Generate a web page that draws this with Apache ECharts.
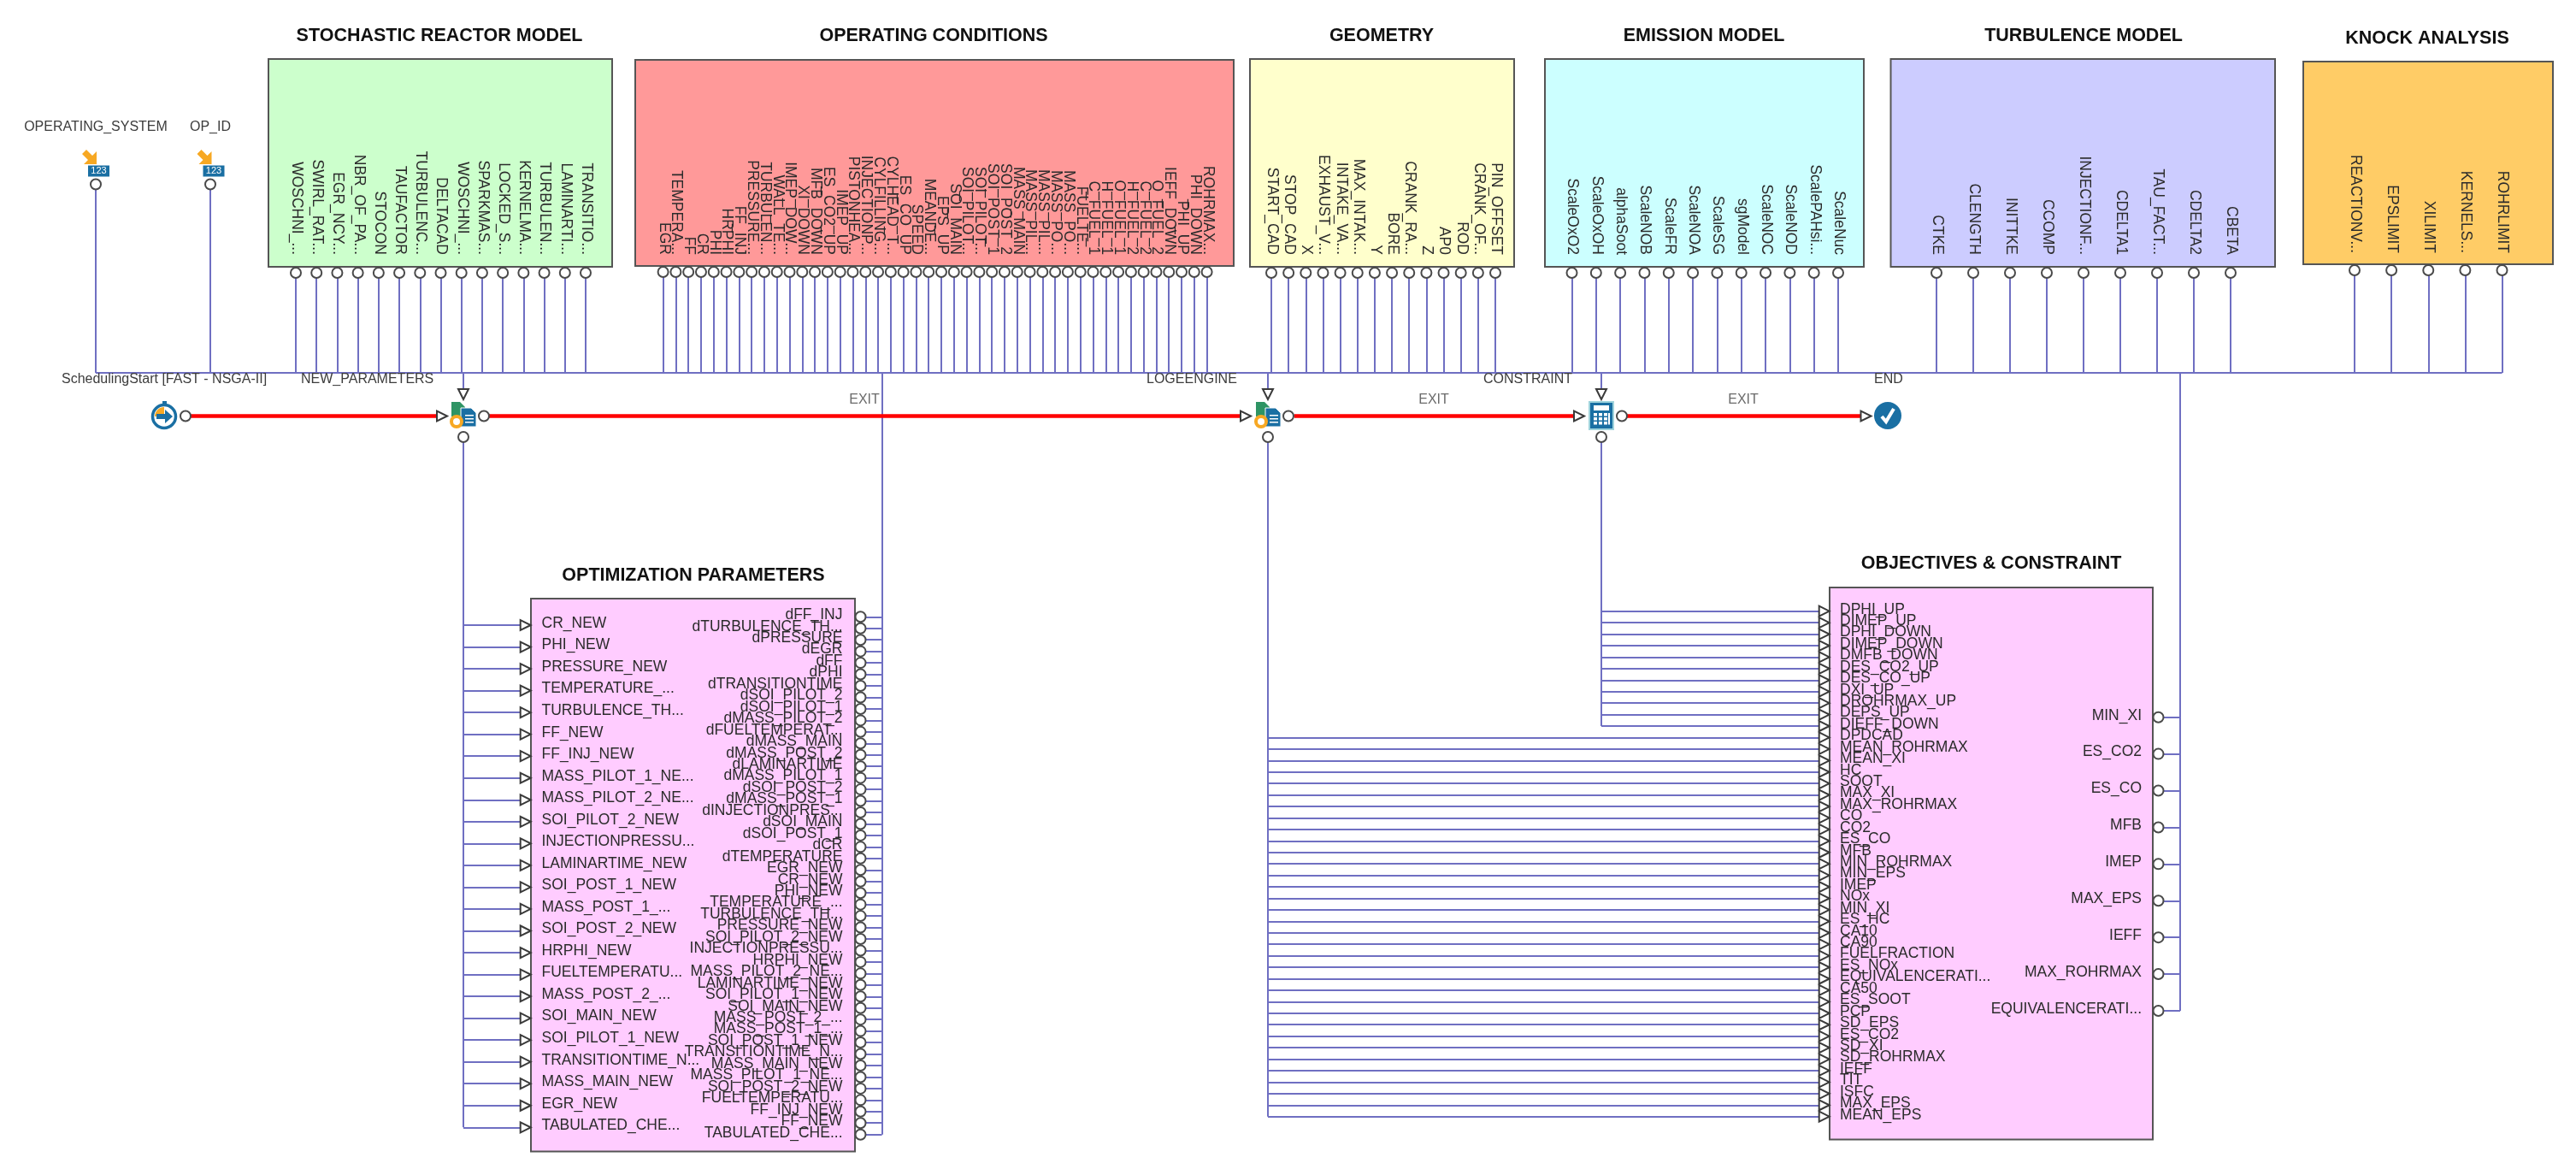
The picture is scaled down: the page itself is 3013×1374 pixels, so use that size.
<!DOCTYPE html>
<html>
<head>
<meta charset="utf-8">
<title>Workflow</title>
<style>
  html, body { margin: 0; height: 100%; background: #fff; overflow: hidden; }
  #chart { width: 3013px; height: 1374px; }
</style>
<script src="https://cdn.jsdelivr.net/npm/echarts@6/dist/echarts.min.js"></script>
</head>
<body>
<div id="chart"></div>
<script>
// port names
const reactorPorts = ['WOSCHNI_...', 'SWIRL_RAT...', 'EGR_NCY...', 'NBR_OF_PA...', 'STOCON', 'TAUFACTOR', 'TURBULENC...', 'DELTACAD', 'WOSCHNI_...', 'SPARKMAS...', 'LOCKED_S...', 'KERNELMA...', 'TURBULEN...', 'LAMINARTI...', 'TRANSITIO...']
const conditionPorts = ['EGR', 'TEMPERA...', 'FF', 'CR', 'PHI', 'HRPHI', 'FF_INJ', 'PRESSURE...', 'TURBULEN...', 'WALL_TE...', 'IMEP_DOW...', 'XI_DOWN', 'MFB_DOWN', 'ES_CO2_UP', 'IMEP_UP', 'PISTONHEA...', 'INJECTIONP...', 'CYLFILLING...', 'CYLHEAD_T...', 'ES_CO_UP', 'SPEED', 'MEANDE...', 'EPS_UP', 'SOI_MAIN', 'SOI_PILOT...', 'SOI_PILOT...', 'SOI_POST_1', 'SOI_POST_2', 'MASS_MAIN', 'MASS_PIL...', 'MASS_PIL...', 'MASS_PO...', 'MASS_PO...', 'FUELTE...', 'C_FUEL_1', 'H_FUEL_1', 'O_FUEL_1', 'H_FUEL_2', 'C_FUEL_2', 'O_FUEL_2', 'IEFF_DOWN', 'PHI_UP', 'PHI_DOWN', 'ROHRMAX...']
const geometryPorts = ['START_CAD', 'STOP_CAD', 'X', 'EXHAUST_V...', 'INTAKE_VA...', 'MAX_INTAK...', 'Y', 'BORE', 'CRANK_RA...', 'Z', 'AP0', 'ROD', 'CRANK_OF...', 'PIN_OFFSET']
const emissionPorts = ['ScaleOxO2', 'ScaleOxOH', 'alphaSoot', 'ScaleNOB', 'ScaleFR', 'ScaleNOA', 'ScaleSG', 'sgModel', 'ScaleNOC', 'ScaleNOD', 'ScalePAHsi...', 'ScaleNuc']
const turbulencePorts = ['CTKE', 'CLENGTH', 'INITTKE', 'CCOMP', 'INJECTIONF...', 'CDELTA1', 'TAU_FACT...', 'CDELTA2', 'CBETA']
const knockPorts = ['REACTIONV...', 'EPSLIMIT', 'XILIMIT', 'KERNELS...', 'ROHRLIMIT']
const optimizationInputs = ['CR_NEW', 'PHI_NEW', 'PRESSURE_NEW', 'TEMPERATURE_...', 'TURBULENCE_TH...', 'FF_NEW', 'FF_INJ_NEW', 'MASS_PILOT_1_NE...', 'MASS_PILOT_2_NE...', 'SOI_PILOT_2_NEW', 'INJECTIONPRESSU...', 'LAMINARTIME_NEW', 'SOI_POST_1_NEW', 'MASS_POST_1_...', 'SOI_POST_2_NEW', 'HRPHI_NEW', 'FUELTEMPERATU...', 'MASS_POST_2_...', 'SOI_MAIN_NEW', 'SOI_PILOT_1_NEW', 'TRANSITIONTIME_N...', 'MASS_MAIN_NEW', 'EGR_NEW', 'TABULATED_CHE...']
const optimizationOutputs = ['dFF_INJ', 'dTURBULENCE_TH...', 'dPRESSURE', 'dEGR', 'dFF', 'dPHI', 'dTRANSITIONTIME', 'dSOI_PILOT_2', 'dSOI_PILOT_1', 'dMASS_PILOT_2', 'dFUELTEMPERAT...', 'dMASS_MAIN', 'dMASS_POST_2', 'dLAMINARTIME', 'dMASS_PILOT_1', 'dSOI_POST_2', 'dMASS_POST_1', 'dINJECTIONPRES...', 'dSOI_MAIN', 'dSOI_POST_1', 'dCR', 'dTEMPERATURE', 'EGR_NEW', 'CR_NEW', 'PHI_NEW', 'TEMPERATURE_...', 'TURBULENCE_TH...', 'PRESSURE_NEW', 'SOI_PILOT_2_NEW', 'INJECTIONPRESSU...', 'HRPHI_NEW', 'MASS_PILOT_2_NE...', 'LAMINARTIME_NEW', 'SOI_PILOT_1_NEW', 'SOI_MAIN_NEW', 'MASS_POST_2_...', 'MASS_POST_1_...', 'SOI_POST_1_NEW', 'TRANSITIONTIME_N...', 'MASS_MAIN_NEW', 'MASS_PILOT_1_NE...', 'SOI_POST_2_NEW', 'FUELTEMPERATU...', 'FF_INJ_NEW', 'FF_NEW', 'TABULATED_CHE...']
const objectiveInputs = ['DPHI_UP', 'DIMEP_UP', 'DPHI_DOWN', 'DIMEP_DOWN', 'DMFB_DOWN', 'DES_CO2_UP', 'DES_CO_UP', 'DXI_UP', 'DROHRMAX_UP', 'DEPS_UP', 'DIEFF_DOWN', 'DPDCAD', 'MEAN_ROHRMAX', 'MEAN_XI', 'HC', 'SOOT', 'MAX_XI', 'MAX_ROHRMAX', 'CO', 'CO2', 'ES_CO', 'MFB', 'MIN_ROHRMAX', 'MIN_EPS', 'IMEP', 'NOx', 'MIN_XI', 'ES_HC', 'CA10', 'CA90', 'FUELFRACTION', 'ES_NOx', 'EQUIVALENCERATI...', 'CA50', 'ES_SOOT', 'PCP', 'SD_EPS', 'ES_CO2', 'SD_XI', 'SD_ROHRMAX', 'IEFF', 'TIT', 'ISFC', 'MAX_EPS', 'MEAN_EPS']
const objectiveOutputs = ['MIN_XI', 'ES_CO2', 'ES_CO', 'MFB', 'IMEP', 'MAX_EPS', 'IEFF', 'MAX_ROHRMAX', 'EQUIVALENCERATI...']
const inputNames = ['OPERATING_SYSTEM', 'OP_ID']

const WIDTH = 3013
const HEIGHT = 1374
const BUS_Y = 436
const FLOW_Y = 486.5
const WIRE = '#6f6fc2'
const FONT = '"Liberation Sans", Arial, sans-serif'

const topBlocks = [
  { title: 'STOCHASTIC REACTOR MODEL', ports: reactorPorts, box: [314, 69, 716, 312], first: 346, last: 685, titleX: 514, color: '#ccffcc' },
  { title: 'OPERATING CONDITIONS', ports: conditionPorts, box: [743, 70, 1443, 311], first: 775.6, last: 1411.6, titleX: 1092, color: '#ff9999' },
  { title: 'GEOMETRY', ports: geometryPorts, box: [1462, 69, 1771, 312], first: 1487, last: 1749, titleX: 1616, color: '#ffffcc' },
  { title: 'EMISSION MODEL', ports: emissionPorts, box: [1807, 69, 2180, 312], first: 1838.5, last: 2150, titleX: 1993, color: '#ccffff' },
  { title: 'TURBULENCE MODEL', ports: turbulencePorts, box: [2211.5, 69, 2661, 312], first: 2265, last: 2609, titleX: 2437, color: '#ccccff' },
  { title: 'KNOCK ANALYSIS', ports: knockPorts, box: [2694, 72, 2986, 309], first: 2754, last: 2926.5, titleX: 2839, titleY: 45, color: '#ffcc66', labelY: 296 }
]
const PINK = '#ffccff'
const optBox = [621, 700, 1000, 1346.5]
const objBox = [2140, 687, 2518, 1332.5]

function spread(first, last, n) {
  return Array.from({ length: n }, (_, i) => first + (last - first) * i / (n - 1))
}

const boxes = []
const wires = []
const flows = [[223, 512], [572, 1451], [1514, 1842], [1903, 2178]]
const ports = []
const triangles = []
const labels = []

function text(x, y, str, opt) {
  labels.push(Object.assign({ x, y, str, size: 17.5, color: '#2b2b2b', align: 'left', weight: 'normal', vertical: false }, opt))
}
function wire(x0, y0, x1, y1) {
  wires.push({ coords: [[x0, y0], [x1, y1]] })
}

// top blocks, ports hang down into the bus
topBlocks.forEach(b => {
  boxes.push({ box: b.box, color: b.color })
  text(b.titleX, b.titleY || 42.5, b.title, { size: 21.5, weight: 'bold', color: '#111', align: 'center' })
  const portY = b.box[3] + 7
  spread(b.first, b.last, b.ports.length).forEach((x, i) => {
    ports.push([x, portY])
    wire(x, portY, x, BUS_Y)
    text(x + 1, b.labelY || 298, b.ports[i], { size: 18.5, vertical: true, align: 'right' })
  })
})

// the two loose inputs on the left
const inputPortX = [112, 246]
inputPortX.forEach((x, i) => {
  ports.push([x, 215.5])
  wire(x, 215.5, x, BUS_Y)
})
text(112, 148.5, inputNames[0], { size: 16, color: '#3c3c3c', align: 'center' })
text(246, 148.5, inputNames[1], { size: 16, color: '#3c3c3c', align: 'center' })

wire(112, BUS_Y, 2926.5, BUS_Y)

// flow row
const NODE_A = 542
const NODE_B = 1483
const NODE_C = 1873
ports.push([217, FLOW_Y], [566, FLOW_Y], [1507, FLOW_Y], [1897, FLOW_Y])
;[NODE_A, NODE_B, NODE_C].forEach(x => {
  wire(x, BUS_Y, x, 455)
  triangles.push({ value: [x, 461], symbolRotate: 180 })
  ports.push([x, 511])
})
;[517, 1457, 1847, 2182.5].forEach(x => triangles.push({ value: [x, FLOW_Y], symbolRotate: -90 }))

const flowLabels = [
  [72, 'SchedulingStart [FAST - NSGA-II]'], [352, 'NEW_PARAMETERS'], [1341, 'LOGEENGINE'], [1735, 'CONSTRAINT'], [2192, 'END']
]
flowLabels.forEach(l => text(l[0], 444, l[1], { size: 16, color: '#3c3c3c' }))
;[1011, 1677, 2039].forEach(x => text(x, 468, 'EXIT', { size: 16, color: '#6b6b6b', align: 'center' }))

// optimization block
boxes.push({ box: optBox, color: PINK })
text(811, 673.5, 'OPTIMIZATION PARAMETERS', { size: 21.5, weight: 'bold', color: '#111', align: 'center' })
const optInY = spread(731, 1318.3, optimizationInputs.length)
optInY.forEach((y, i) => {
  wire(NODE_A, y, 610, y)
  triangles.push({ value: [614.7, y], symbolRotate: -90 })
  text(633.5, y - 2, optimizationInputs[i])
})
wire(NODE_A, 511, NODE_A, 1318.3)
const optOutY = spread(721.3, 1326.7, optimizationOutputs.length)
optOutY.forEach((y, i) => {
  ports.push([1006.5, y])
  wire(1006.5, y, 1031.5, y)
  text(985.5, y - 2, optimizationOutputs[i], { align: 'right' })
})
wire(1031.5, BUS_Y, 1031.5, 1326.7)

// objectives block, first eleven inputs come from the calculator node
boxes.push({ box: objBox, color: PINK })
text(2329, 659.5, 'OBJECTIVES & CONSTRAINT', { size: 21.5, weight: 'bold', color: '#111', align: 'center' })
const objInY = spread(714.7, 1305.7, objectiveInputs.length)
objInY.forEach((y, i) => {
  wire(i < 11 ? NODE_C : NODE_B, y, 2128, y)
  triangles.push({ value: [2133.7, y], symbolRotate: -90 })
  text(2152, y - 2, objectiveInputs[i])
})
wire(NODE_C, 511, NODE_C, objInY[10])
wire(NODE_B, 511, NODE_B, objInY[objInY.length - 1])
const objOutY = spread(838.7, 1182, objectiveOutputs.length)
objOutY.forEach((y, i) => {
  ports.push([2524.5, y])
  wire(2524.5, y, 2550, y)
  text(2505, y - 2, objectiveOutputs[i], { align: 'right' })
})
wire(2550, BUS_Y, 2550, objOutY[objOutY.length - 1])

// node icons
const BLUE = '#1a6fa3'
const ORANGE = '#f7a823'
const GREEN = '#2e9464'
const iconKinds = ['input', 'input', 'start', 'task', 'task', 'calc', 'done']
const iconSpots = [[115.5, 200], [250, 200], [192, 487], [NODE_A, 485], [NODE_B, 485], [NODE_C, 486], [2208, 486]]

function rect(x, y, w, h, fill, extra) {
  return Object.assign({ type: 'rect', shape: { x, y, width: w, height: h }, style: { fill } }, extra)
}
function drawIcon(kind, cx, cy) {
  const c = []
  if (kind === 'input') {
    c.push(rect(cx - 12.5, cy - 6.5, 25, 13, BLUE))
    c.push({ type: 'text', style: { text: '123', x: cx, y: cy, fill: '#fff', font: '11px ' + FONT, align: 'center', verticalAlign: 'middle' } })
    c.push({ type: 'polygon', shape: { points: [[cx - 2.5, cy - 8], [cx - 17.5, cy - 8], [cx - 12.5, cy - 13], [cx - 19.5, cy - 20], [cx - 14.5, cy - 25], [cx - 7.5, cy - 18], [cx - 2.5, cy - 23]] }, style: { fill: ORANGE } })
  } else if (kind === 'start') {
    c.push(rect(cx - 2, cy - 18, 5, 4, BLUE))
    c.push({ type: 'circle', shape: { cx, cy, r: 13.5 }, style: { fill: '#fff', stroke: BLUE, lineWidth: 3.5 } })
    c.push({ type: 'sector', shape: { cx, cy, r: 11, r0: 0, startAngle: Math.PI, endAngle: Math.PI * 1.5 }, style: { fill: ORANGE } })
    c.push({ type: 'polygon', shape: { points: [[cx - 9, cy - 3], [cx + 1, cy - 3], [cx + 1, cy - 8], [cx + 10, cy], [cx + 1, cy + 8], [cx + 1, cy + 3], [cx - 9, cy + 3]] }, style: { fill: BLUE } })
  } else if (kind === 'task') {
    c.push({ type: 'polygon', shape: { points: [[cx - 14, cy - 15], [cx - 4, cy - 15], [cx + 2, cy - 9], [cx + 2, cy + 2], [cx - 14, cy + 2]] }, style: { fill: GREEN } })
    c.push({ type: 'polygon', shape: { points: [[cx - 3, cy - 8], [cx + 9, cy - 8], [cx + 15, cy - 2], [cx + 15, cy + 14], [cx - 3, cy + 14]] }, style: { fill: BLUE, stroke: '#fff', lineWidth: 1 } })
    ;[0, 4, 8].forEach(d => c.push(rect(cx + 2, cy + d, 10, 1.5, '#fff')))
    c.push({ type: 'circle', shape: { cx: cx - 8, cy: cy + 8, r: 6 }, style: { fill: '#fff', stroke: ORANGE, lineWidth: 4 } })
  } else if (kind === 'calc') {
    c.push(rect(cx - 15, cy - 17, 30, 34, '#9fd3dc'))
    c.push(rect(cx - 13, cy - 15, 26, 30, BLUE))
    c.push(rect(cx - 9, cy - 12, 18, 6, '#fff'))
    ;[-3, 2, 7].forEach(dy => [-9, -3, 3].forEach(dx => c.push(rect(cx + dx, cy + dy, 4, 3.5, '#fff'))))
    c.push(rect(cx + 8, cy - 3, 2, 13.5, '#fff'))
  } else {
    c.push({ type: 'circle', shape: { cx, cy, r: 16 }, style: { fill: BLUE } })
    c.push({ type: 'polyline', shape: { points: [[cx - 7, cy + 1], [cx - 2, cy + 7], [cx + 7, cy - 8]] }, style: { stroke: '#fff', lineWidth: 4, fill: 'none' } })
  }
  return { type: 'group', children: c }
}

const chart = echarts.init(document.getElementById('chart'), null, { renderer: 'canvas' })
chart.setOption({
  animation: false,
  backgroundColor: '#ffffff',
  grid: { left: 0, right: 0, top: 0, bottom: 0 },
  xAxis: { type: 'value', min: 0, max: WIDTH, show: false },
  yAxis: { type: 'value', min: 0, max: HEIGHT, inverse: true, show: false },
  series: [
    {
      type: 'custom',
      z: 1,
      silent: true,
      data: boxes.map(b => b.box),
      encode: { x: [0, 2], y: [1, 3] },
      renderItem(params, api) {
        const a = api.coord([api.value(0), api.value(1)])
        const b = api.coord([api.value(2), api.value(3)])
        return {
          type: 'rect',
          shape: { x: a[0], y: a[1], width: b[0] - a[0], height: b[1] - a[1] },
          style: { fill: boxes[params.dataIndex].color, stroke: '#555555', lineWidth: 2 }
        }
      }
    },
    {
      type: 'lines',
      coordinateSystem: 'cartesian2d',
      z: 2,
      silent: true,
      lineStyle: { color: WIRE, width: 2, opacity: 1 },
      data: wires
    },
    {
      type: 'lines',
      coordinateSystem: 'cartesian2d',
      z: 3,
      silent: true,
      lineStyle: { color: '#ff0000', width: 4.5, opacity: 1 },
      data: flows.map(f => ({ coords: [[f[0], FLOW_Y], [f[1], FLOW_Y]] }))
    },
    {
      type: 'scatter',
      z: 4,
      silent: true,
      symbol: 'circle',
      symbolSize: 12,
      itemStyle: { color: '#ffffff', borderColor: '#4a4a4a', borderWidth: 2, opacity: 1 },
      data: ports
    },
    {
      type: 'scatter',
      z: 4,
      silent: true,
      symbol: 'triangle',
      symbolSize: 12,
      itemStyle: { color: '#ffffff', borderColor: '#3a3a3a', borderWidth: 2, opacity: 1 },
      data: triangles
    },
    {
      type: 'custom',
      z: 5,
      silent: true,
      data: labels.map(l => [l.x, l.y]),
      encode: { x: 0, y: 1 },
      renderItem(params, api) {
        const l = labels[params.dataIndex]
        const p = api.coord([api.value(0), api.value(1)])
        return {
          type: 'text',
          x: p[0],
          y: p[1],
          // vertical labels run a little condensed along their length
          scaleX: l.vertical ? 0.945 : 1,
          rotation: l.vertical ? -Math.PI / 2 : 0,
          style: {
            text: l.str,
            x: 0,
            y: 0,
            fill: l.color,
            font: l.weight + ' ' + l.size + 'px ' + FONT,
            align: l.align,
            verticalAlign: 'middle'
          }
        }
      }
    },
    {
      type: 'custom',
      z: 6,
      silent: true,
      data: iconSpots,
      encode: { x: 0, y: 1 },
      renderItem(params, api) {
        const p = api.coord([api.value(0), api.value(1)])
        return drawIcon(iconKinds[params.dataIndex], p[0], p[1])
      }
    }
  ]
})
</script>
</body>
</html>
